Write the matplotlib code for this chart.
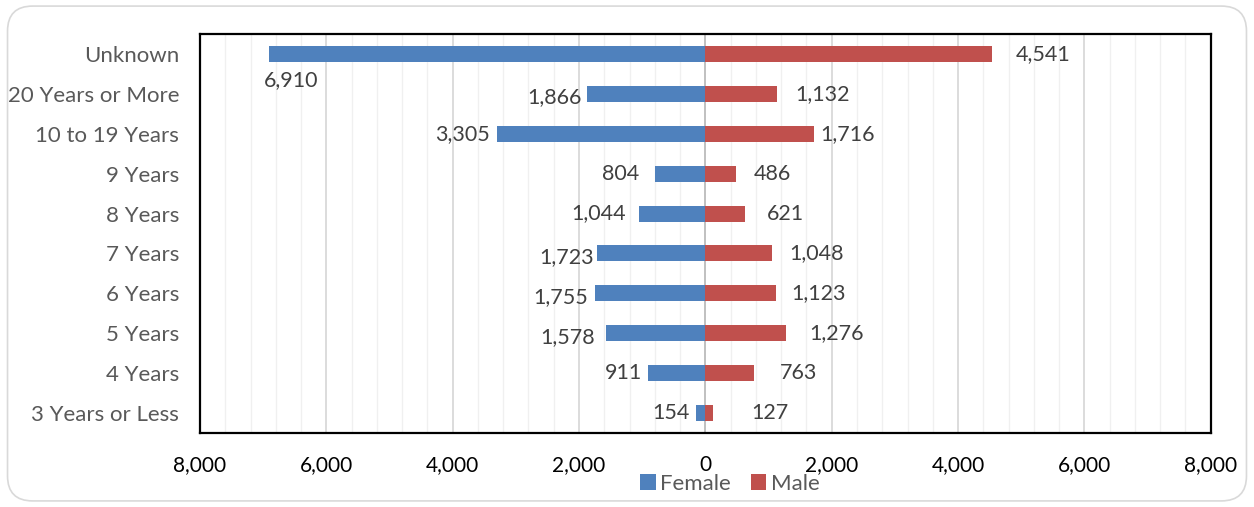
import matplotlib.pyplot as plt
from matplotlib.patches import FancyBboxPatch
from matplotlib.ticker import MultipleLocator, FuncFormatter

categories = ['Unknown', '20 Years or More', '10 to 19 Years', '9 Years', '8 Years',
              '7 Years', '6 Years', '5 Years', '4 Years', '3 Years or Less']
female = [6910, 1866, 3305, 804, 1044, 1723, 1755, 1578, 911, 154]
male = [4541, 1132, 1716, 486, 621, 1048, 1123, 1276, 763, 127]

# label offsets in points (dx, dy) tuned by eye
female_off = [(16, -19), (-4, -2), (-5, 0), (-11, 0), (-10, 0), (-2, -3), (-5, -3), (-8, -3), (-4, 0), (-4, 0)]
male_off = [(17, 0), (13, 0), (5, 0), (13, 0), (16, 0), (13, 0), (11, 0), (17, 0), (19, 0), (27, 0)]

plt.rcParams['font.family'] = ['Lato', 'DejaVu Sans']
fs = 15.5

fig = plt.figure(figsize=(12.54, 5.07), dpi=100)
fig.patches.append(FancyBboxPatch((0.006, 0.012), 0.988, 0.976, boxstyle='round,pad=0,rounding_size=0.02',
                                  transform=fig.transFigure, facecolor='white', edgecolor='#d9d9d9', lw=1.2,
                                  mutation_aspect=2.47, zorder=-10))
ax = fig.add_axes([0.1595, 0.146, 0.806, 0.787])
ax.set_facecolor('none')

y = list(range(len(categories)))
neg = [-v for v in female]
ax.barh(y, neg, height=0.4, color='#4F81BD', label='Female', zorder=3)
ax.barh(y, male, height=0.4, color='#C0504D', label='Male', zorder=3)

for i in y:
    ha = 'center' if i == 0 else 'right'
    ax.annotate(f'{female[i]:,}', (neg[i], i), xytext=female_off[i], textcoords='offset points',
                ha=ha, va='center', fontsize=fs, color='#404040')
    ax.annotate(f'{male[i]:,}', (male[i], i), xytext=male_off[i], textcoords='offset points',
                ha='left', va='center', fontsize=fs, color='#404040')

ax.set_xlim(-8000, 8000)
ax.set_ylim(9.5, -0.5)
ax.set_yticks(y)
ax.set_yticklabels(categories, fontsize=16, color='#595959')
ax.xaxis.set_major_locator(MultipleLocator(2000))
ax.xaxis.set_minor_locator(MultipleLocator(400))
ax.xaxis.set_major_formatter(FuncFormatter(lambda v, p: f'{abs(int(v)):,}'))
ax.tick_params(axis='x', labelsize=15, colors='black', length=0, pad=16, which='both')
ax.tick_params(axis='y', length=0, pad=15)
ax.grid(True, axis='x', which='major', color='#d9d9d9', lw=1.3, zorder=0)
ax.grid(True, axis='x', which='minor', color='#f0f0f0', lw=1, zorder=0)
ax.axvline(0, color='#bfbfbf', lw=1.3, zorder=2)
for s in ax.spines.values():
    s.set_linewidth(1.6)
    s.set_color('black')

leg = fig.legend(loc='center', bbox_to_anchor=(0.582, 0.046), ncol=2, frameon=False, fontsize=16,
                 handlelength=0.7, handleheight=0.7, handletextpad=0.2, columnspacing=0.9)
for t in leg.get_texts():
    t.set_color('#595959')

fig.savefig('out.png', dpi=100)
